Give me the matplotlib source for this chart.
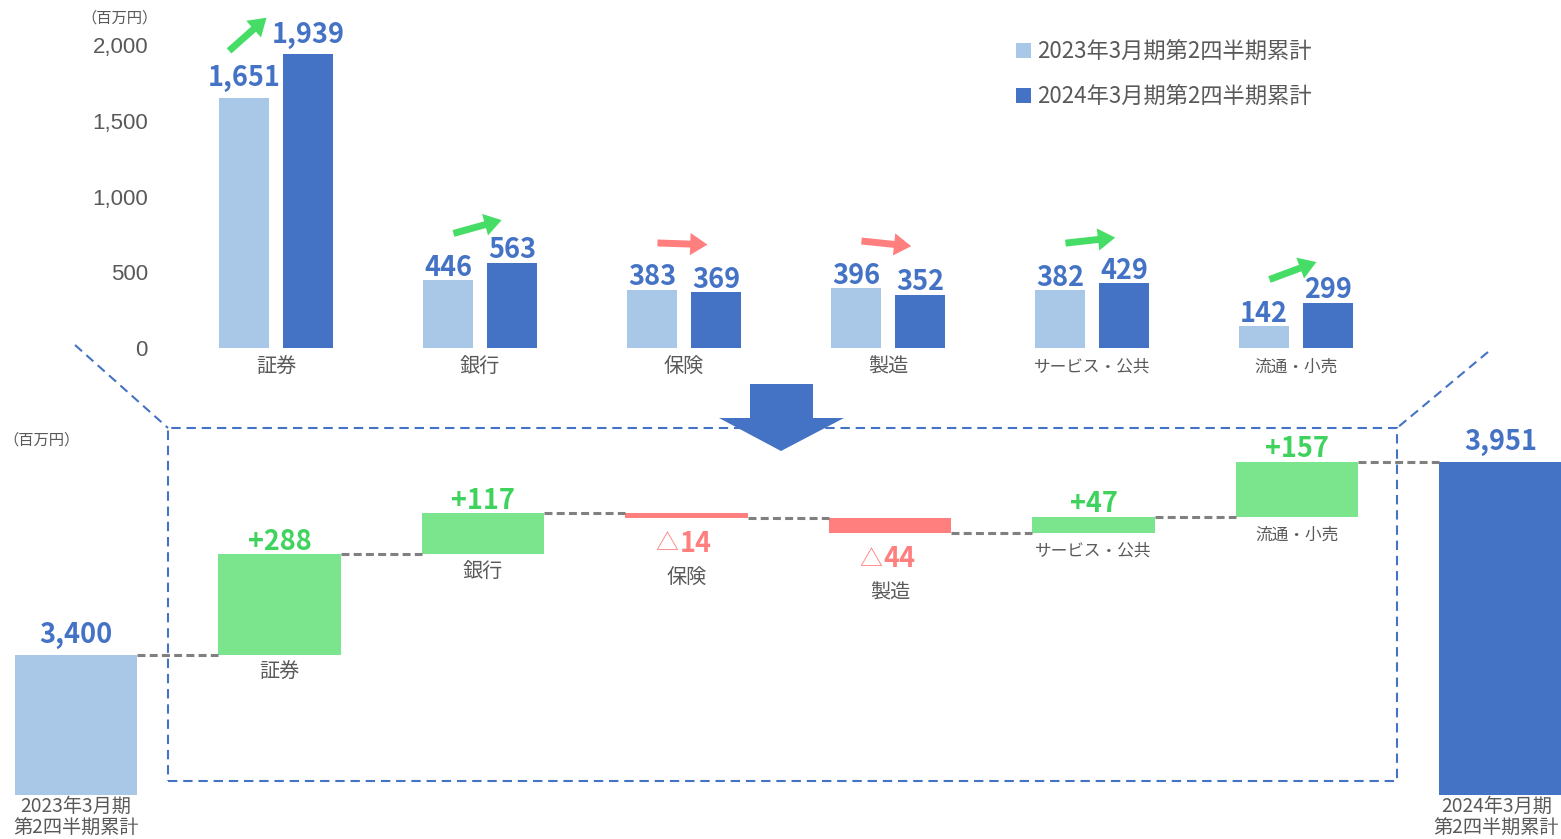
import matplotlib
matplotlib.use("Agg")
import matplotlib.pyplot as plt
from matplotlib.patches import Rectangle, Polygon
from matplotlib.lines import Line2D
import numpy as np

plt.rcParams['font.family'] = ['Noto Sans CJK JP', 'DejaVu Sans']

# === data ===
segments = ["証券", "銀行", "保険", "製造", "サービス・公共", "流通・小売"]
prev_vals = [1651, 446, 383, 396, 382, 142]   # 2023年3月期 2Q累計
curr_vals = [1939, 563, 369, 352, 429, 299]   # 2024年3月期 2Q累計
total_prev = 3400
total_curr = 3951
legend_names = ["2023年3月期第2四半期累計", "2024年3月期第2四半期累計"]
end_names = ["2023年3月期\n第2四半期累計", "2024年3月期\n第2四半期累計"]
yticks = [0, 500, 1000, 1500, 2000]
unit = "（百万円）"

diffs = [c - p for p, c in zip(prev_vals, curr_vals)]

# === colors ===
LIGHT = '#a9c7e7'
DARK = '#4472c4'
GREEN_BAR = '#7ae58c'
GREEN_TXT = '#3fd35e'
GREEN_ARR = '#45dd65'
RED = '#ff7f7f'
GRAY = '#595959'
LINE_GRAY = '#808080'

# === layout (pixels) ===
W, H = 1561, 839
PT = 72 / 100   # points per pixel

fig = plt.figure(figsize=(W / 100, H / 100), dpi=100)


def fpx(x, y):
    return (x / W, 1 - y / H)


# ---------- top: grouped bars ----------
TOP_L, TOP_R, TOP_T, TOP_B = 160, 1400, 45, 348
CAT0, CAT_STEP = 276, 204
ax1 = fig.add_axes([TOP_L / W, 1 - TOP_B / H, (TOP_R - TOP_L) / W, (TOP_B - TOP_T) / H])
ax1.set_xlim((TOP_L - CAT0) / CAT_STEP, (TOP_R - CAT0) / CAT_STEP)
ax1.set_ylim(0, 2000)
upx = 2000 / (TOP_B - TOP_T)   # data units per pixel

x = np.arange(len(segments))
off = 32 / CAT_STEP
bw = 50 / CAT_STEP
ax1.bar(x - off, prev_vals, bw, color=LIGHT)
ax1.bar(x + off, curr_vals, bw, color=DARK)

ax1.set_yticks(yticks)
ax1.set_yticklabels([f"{v:,}" for v in yticks], family='Liberation Sans', fontsize=16, color=GRAY)
ax1.tick_params(axis='y', length=0, pad=12 * PT)
ax1.set_xticks([])
for s in ax1.spines.values():
    s.set_visible(False)


def val_label(ax, xv, yv, s, color):
    gap = 11.5 if ',' in s else 4.5
    ax.annotate(s, (xv, yv), xytext=(0, gap * PT), textcoords='offset points',
                ha='center', va='baseline', fontsize=19.5, fontweight='bold',
                color=color, annotation_clip=False)


for i in range(len(segments)):
    val_label(ax1, i - off, prev_vals[i], f"{prev_vals[i]:,}", DARK)
    val_label(ax1, i + off, curr_vals[i], f"{curr_vals[i]:,}", DARK)
    fs = 14.5 if len(segments[i]) <= 2 else 12
    ax1.annotate(segments[i], (i, 0), xytext=(0, -19 * PT), textcoords='offset points',
                 ha='center', va='center', fontsize=fs, color=GRAY, annotation_clip=False)

# trend arrows
tail_dx = [-0.23, -0.13, -0.13, -0.13, -0.13, -0.13]
for i in range(len(segments)):
    vx = 2 * off * CAT_STEP
    vy = diffs[i] / upx
    if i == 0:
        vy *= 1.3
    n = np.hypot(vx, vy)
    tx, ty = vx / n * 50, vy / n * 50
    x0 = i + tail_dx[i]
    y0 = prev_vals[i] + 47 * upx
    col = GREEN_ARR if diffs[i] > 0 else RED
    ax1.annotate("", xy=(x0 + tx / CAT_STEP, y0 + ty * upx), xytext=(x0, y0),
                 annotation_clip=False,
                 arrowprops=dict(arrowstyle='simple,head_length=0.62,head_width=0.8,tail_width=0.25',
                                 mutation_scale=20, color=col, shrinkA=0, shrinkB=0, lw=0))

fig.text(*fpx(120, 18), unit, ha='center', va='center', fontsize=11, color=GRAY)

# legend
for k, (name, col) in enumerate(zip(legend_names, [LIGHT, DARK])):
    cy = 51 + 45 * k
    fig.add_artist(Rectangle(fpx(1016, cy + 7), 15 / W, 15 / H, transform=fig.transFigure,
                             color=col, lw=0))
    fig.text(*fpx(1037, cy), name, ha='left', va='center', fontsize=16, color=GRAY)

# ---------- connector decorations ----------
BLUE_DASH = dict(color=DARK, lw=1.5, linestyle=(0, (4.5, 2.8)))
fig.add_artist(Rectangle(fpx(168, 781), (1397 - 168) / W, (781 - 428) / H,
                         transform=fig.transFigure, fill=False, **BLUE_DASH))
for (xa, ya), (xb, yb) in [((75, 345), (168, 428)), ((1488, 352), (1397, 428))]:
    p, q = fpx(xa, ya), fpx(xb, yb)
    fig.add_artist(Line2D([p[0], q[0]], [p[1], q[1]], transform=fig.transFigure, **BLUE_DASH))

arrow_pts = [(750, 384), (813, 384), (813, 418), (844, 418), (781, 451), (719, 418), (750, 418)]
fig.add_artist(Polygon([fpx(a, b) for a, b in arrow_pts], closed=True,
                       transform=fig.transFigure, color=DARK, lw=0, zorder=5))

# ---------- bottom: waterfall ----------
BOT_T, BOT_B = 420, 795
W0, WSTEP = 76, 203.5
WF_BASE = 3000
wscale = 0.35027   # pixels per unit
ax2 = fig.add_axes([0, 1 - BOT_B / H, 1, (BOT_B - BOT_T) / H])
ax2.set_xlim(-W0 / WSTEP, (W - W0) / WSTEP)
ax2.set_ylim(WF_BASE, WF_BASE + (BOT_B - BOT_T) / wscale)
ax2.axis('off')

cum = np.concatenate([[total_prev], total_prev + np.cumsum(diffs)])
BW = 0.6
nseg = len(segments)

ax2.bar(0, total_prev - WF_BASE, BW, bottom=WF_BASE, color=LIGHT)
ax2.bar(nseg + 1, total_curr - WF_BASE, BW, bottom=WF_BASE, color=DARK)

for i, d in enumerate(diffs):
    xi = i + 1
    lo = min(cum[i], cum[i + 1])
    hi = max(cum[i], cum[i + 1])
    ax2.bar(xi, abs(d), BW, bottom=lo, color=GREEN_BAR if d > 0 else RED)
    fs = 14.5 if len(segments[i]) <= 2 else 12
    if d > 0:
        val_label(ax2, xi, hi, f"+{d:,}", GREEN_TXT)
        ax2.annotate(segments[i], (xi, lo), xytext=(0, -18 * PT), textcoords='offset points',
                     ha='center', va='center', fontsize=fs, color=GRAY)
    else:
        ax2.annotate("△", (xi, lo), xytext=(-8 * PT, -26 * PT), textcoords='offset points',
                     ha='right', va='center', fontsize=16.5, color=RED)
        ax2.annotate(f"{abs(d):,}", (xi, lo), xytext=(-7 * PT, -26 * PT), textcoords='offset points',
                     ha='left', va='center', fontsize=19.5, fontweight='bold', color=RED)
        ax2.annotate(segments[i], (xi, lo), xytext=(0, -60 * PT), textcoords='offset points',
                     ha='center', va='center', fontsize=fs, color=GRAY)

# connectors
for i in range(nseg + 1):
    ax2.plot([i + BW / 2, i + 1 - BW / 2], [cum[i], cum[i]], color=LINE_GRAY,
             lw=2.2, linestyle=(0, (2.6, 1.4)), zorder=3)

for xi, v, name, dx in [(0, total_prev, end_names[0], 0), (nseg + 1, total_curr, end_names[1], -4)]:
    val_label(ax2, xi, v, f"{v:,}", DARK)
    ax2.annotate(name, (xi, WF_BASE), xytext=(dx * PT, -1 * PT), textcoords='offset points',
                 ha='center', va='top', fontsize=13.8, color=GRAY, linespacing=1.05,
                 annotation_clip=False)

fig.text(*fpx(42, 440), unit, ha='center', va='center', fontsize=11, color=GRAY)

fig.savefig("out.png", dpi=100)
